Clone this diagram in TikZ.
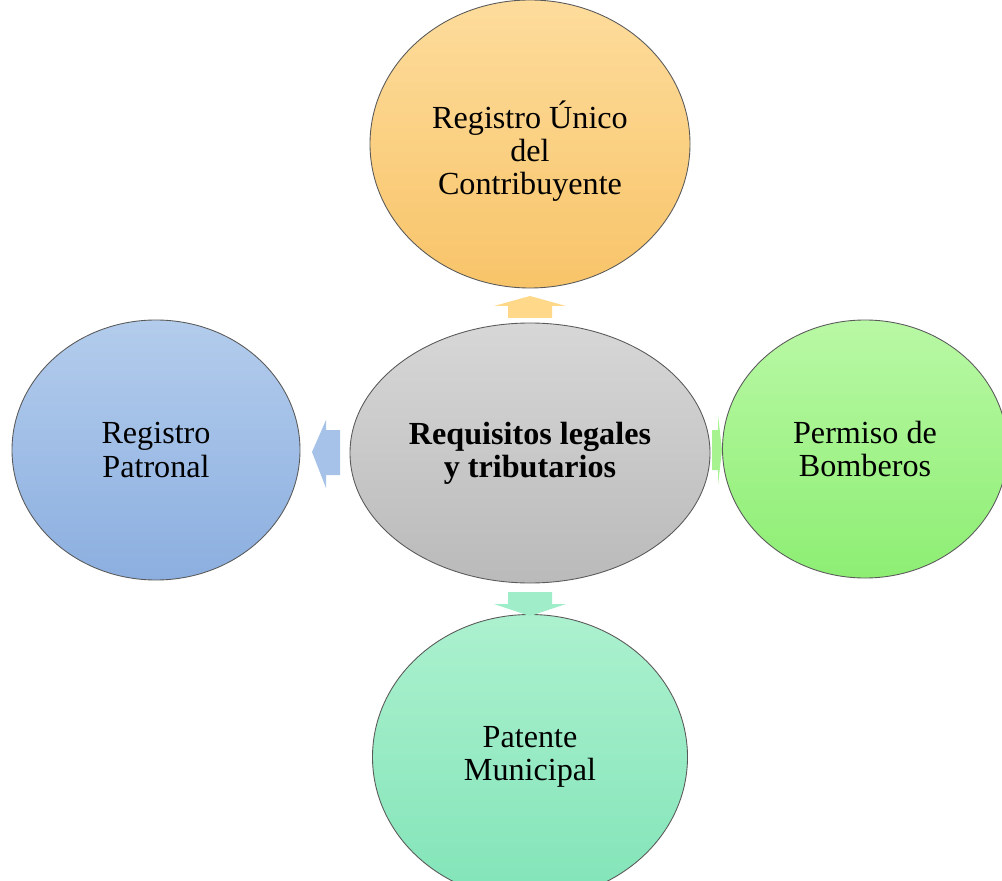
\documentclass[tikz,border=0pt]{standalone}
\usepackage{fontspec}
\setmainfont{Liberation Serif}
\usetikzlibrary{positioning, shapes.geometric}

\definecolor{rucTop}{HTML}{FDDC9C}
\definecolor{rucBot}{HTML}{F8C469}
\definecolor{patTop}{HTML}{B3CCEC}
\definecolor{patBot}{HTML}{8CAFE0}
\definecolor{bomTop}{HTML}{B9F8A5}
\definecolor{bomBot}{HTML}{8DEE73}
\definecolor{munTop}{HTML}{ACF1CF}
\definecolor{munBot}{HTML}{82E4B8}
\definecolor{ctrTop}{HTML}{D7D7D7}
\definecolor{ctrBot}{HTML}{BABABA}
\definecolor{rim}{HTML}{5A5A5A}

\begin{document}
\begin{tikzpicture}[
    every node/.style={font=\fontsize{18.3}{18.8}\selectfont},
    req/.style={ellipse, draw=rim, line width=0.5pt, inner sep=0pt, align=center},
    blockarrow/.style={draw=none}]

  \useasboundingbox (0,0) rectangle (20.04,17.6);
  \clip (0,0) rectangle (20.04,17.6);

  \node[req, minimum width=7.2cm, minimum height=5.2cm, top color=ctrTop, bottom color=ctrBot] (ctr) at (10.6,8.54) {\bfseries Requisitos legales\\\bfseries y tributarios};
  \node[req, minimum width=6.4cm, minimum height=5.76cm, top color=rucTop, bottom color=rucBot] (ruc) at (10.6,14.72) {\rule{0pt}{0.85cm}Registro Único\\del\\Contribuyente};
  \node[req, minimum width=5.76cm, minimum height=5.2cm, top color=patTop, bottom color=patBot] (pat) at (3.12,8.6) {Registro\\Patronal};
  \node[req, minimum width=5.7cm, minimum height=5.16cm, top color=bomTop, bottom color=bomBot] (bom) at (17.3,8.62) {Permiso de\\Bomberos};
  \node[req, minimum width=6.3cm, minimum height=5.7cm, top color=munTop, bottom color=munBot] (mun) at (10.6,2.46) {Patente\\Municipal};

  % flechas de bloque
  \fill[blockarrow, fill={rgb,255:red,255;green,216;blue,138}] (10.16,11.24) -- (10.16,11.48) -- (9.88,11.48) -- (10.6,11.68) -- (11.32,11.48) -- (11.04,11.48) -- (11.04,11.24) -- cycle;
  \fill[blockarrow, fill={rgb,255:red,167;green,194;blue,232}] (6.8,9.0) -- (6.52,9.0) -- (6.52,9.2) -- (6.24,8.56) -- (6.52,7.84) -- (6.52,8.1) -- (6.8,8.1) -- cycle;
  \fill[blockarrow, fill={rgb,255:red,166;green,243;blue,144}] (14.24,9.0) -- (14.36,9.0) -- (14.36,9.3) -- (14.44,8.6) -- (14.36,7.9) -- (14.36,8.2) -- (14.24,8.2) -- cycle;
  \fill[blockarrow, fill={rgb,255:red,160;green,237;blue,201}] (10.16,5.76) -- (10.16,5.52) -- (9.88,5.52) -- (10.6,5.28) -- (11.32,5.52) -- (11.04,5.52) -- (11.04,5.76) -- cycle;
\end{tikzpicture}
\end{document}
